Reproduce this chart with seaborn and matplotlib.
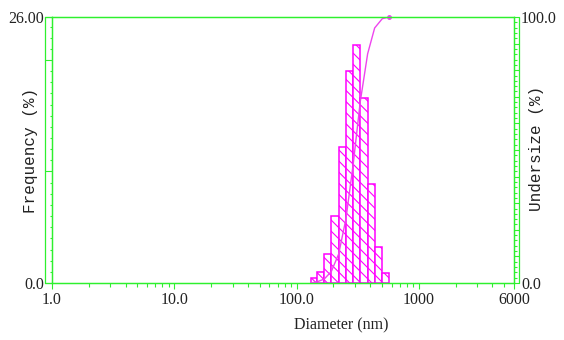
import numpy as np
import pandas as pd
import matplotlib
matplotlib.use("Agg")
import matplotlib.pyplot as plt
import seaborn as sns
from matplotlib.lines import Line2D
from matplotlib.ticker import FixedLocator, NullFormatter, LogLocator

# ---- data ----
bin_edges_nm = [130.4, 147.7, 168.5, 192.2, 220.9, 253.5, 290.8, 331.8, 381.4, 435.1, 502.0, 566.4]
frequency_pct = [0.46, 1.04, 2.79, 6.59, 13.27, 20.71, 23.30, 18.04, 9.67, 3.48, 0.94]
undersize_pct = [0.0, 0.46, 1.50, 4.29, 10.88, 24.15, 44.86, 68.16, 86.20, 95.87, 99.35, 100.0]
x_tick_values = [1, 10, 100, 1000, 6000]
x_tick_labels = ["1.0", "10.0", "100.0", "1000", "6000"]
freq_major_ticks = [0, 10.9, 21.8, 26]
freq_tick_labels = ["0.0", "", "", "26.00"]
under_major_ticks = [0, 10, 20, 30, 40, 50, 60, 70, 80, 90, 100]
under_tick_labels = ["0.0", "", "", "", "", "", "", "", "", "", "100.0"]

GREEN = "#2ef02e"
MAG = "#ff00ff"
CURVE = "#ee44ee"
TXT = "#222222"

sns.set_theme(style="white")
plt.rcParams["font.family"] = ["Liberation Serif", "DejaVu Serif"]
plt.rcParams["hatch.linewidth"] = 0.8

W, H = 564, 340
fig = plt.figure(figsize=(W / 100, H / 100), dpi=100)
fig.patch.set_facecolor("white")
L, R, T, B = 52, 514, 17, 283
ax = fig.add_axes([L / W, 1 - B / H, (R - L) / W, (B - T) / H])
ax.set_facecolor("white")

edges = np.array(bin_edges_nm)
centers = np.sqrt(edges[:-1] * edges[1:])
df = pd.DataFrame({"d": centers, "f": frequency_pct})
sns.histplot(data=df, x="d", weights="f", bins=[float(v) for v in np.log10(edges)],
             log_scale=True, ax=ax, fill=True, facecolor="white", edgecolor=MAG,
             linewidth=1.1, hatch="\\\\\\", alpha=1, stat="count")

ax.set_xscale("log")
ax.set_xlim(1, 6000)
ax.set_ylim(0, 26)
ax.set_xlabel("")
ax.set_ylabel("")

ax2 = ax.twinx()
dfc = pd.DataFrame({"d": bin_edges_nm, "u": undersize_pct})
sns.lineplot(data=dfc, x="d", y="u", ax=ax2, color=CURVE, linewidth=1.0)
ax2.plot([bin_edges_nm[-1]], [undersize_pct[-1]], marker="o", ms=2.5, color=CURVE, clip_on=False)
ax2.set_xscale("log")
ax2.set_xlim(1, 6000)
ax2.set_ylim(0, 100)
ax2.set_xlabel("")
ax2.set_ylabel("")

for a in (ax, ax2):
    for s in a.spines.values():
        s.set_color(GREEN)
        s.set_linewidth(0.9)

# x axis
ax.xaxis.set_major_locator(FixedLocator(x_tick_values))
ax.set_xticklabels(x_tick_labels)
ax.xaxis.set_minor_locator(LogLocator(base=10, subs=np.arange(2, 10)))
ax.xaxis.set_minor_formatter(NullFormatter())
ax.tick_params(axis="x", which="major", direction="out", length=4.3, width=0.8,
               color=GREEN, labelsize=11.5, labelcolor=TXT, pad=2.2, bottom=True)
ax.tick_params(axis="x", which="minor", direction="out", length=2.9, width=0.8,
               color=GREEN, bottom=True)

# left axis
ax.yaxis.set_major_locator(FixedLocator(freq_major_ticks))
ax.set_yticklabels(freq_tick_labels)
ax.yaxis.set_minor_locator(FixedLocator(list(np.arange(0, 26, 1.09))))
ax.tick_params(axis="y", which="major", direction="out", length=5.0, width=0.8,
               color=GREEN, labelsize=11.5, labelcolor=TXT, pad=0.7, left=True)
ax.tick_params(axis="y", which="minor", direction="out", length=1.5, width=0.8,
               color=GREEN, left=True)

# right axis
ax2.yaxis.set_major_locator(FixedLocator(under_major_ticks))
ax2.set_yticklabels(under_tick_labels)
ax2.yaxis.set_minor_locator(FixedLocator(list(range(0, 101, 2))))
ax2.tick_params(axis="y", which="major", direction="out", length=3.6, width=0.8,
                color=GREEN, labelsize=11.5, labelcolor=TXT, pad=1.5, right=True)
ax2.tick_params(axis="y", which="minor", direction="out", length=2.2, width=0.8,
                color=GREEN, right=True)
ax2.tick_params(axis="x", which="both", bottom=False, top=False, labelbottom=False)

# extra frame lines
def fline(x0, y0, x1, y1):
    fig.add_artist(Line2D([x0 / W, x1 / W], [1 - y0 / H, 1 - y1 / H],
                          color=GREEN, linewidth=0.9, transform=fig.transFigure))

fline(45, T, 45, B)
fline(45, T, L, T)
fline(45, B, L, B)
fline(519, T, 519, B)

mono = ["Liberation Mono", "DejaVu Sans Mono"]
fig.text(30 / W, 1 - 150 / H, "Frequency (%)", rotation=90, ha="center", va="center",
         fontsize=11.5, color=TXT, family=mono)
fig.text(537 / W, 1 - 148 / H, "Undersize (%)", rotation=90, ha="center", va="center",
         fontsize=11.5, color=TXT, family=mono)
fig.text(341 / W, 1 - 325 / H, "Diameter (nm)", ha="center", va="center",
         fontsize=11.5, color=TXT)

fig.savefig("out.png", dpi=100, facecolor="white")
